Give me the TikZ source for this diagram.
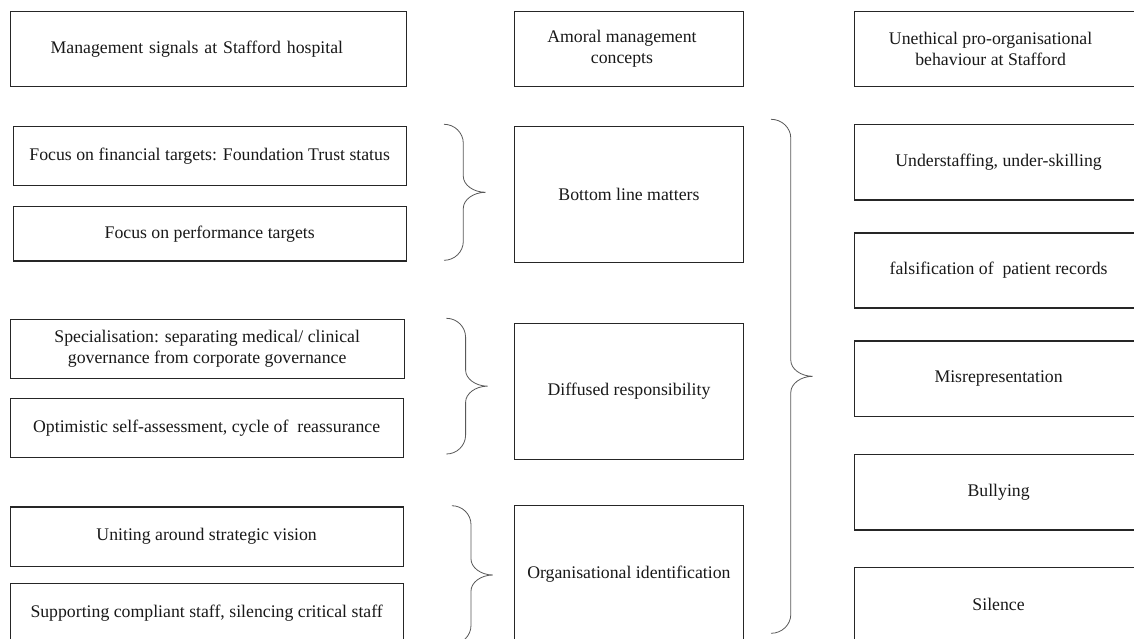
\documentclass[tikz,border=0pt]{standalone}
\usepackage{fontspec}
\setmainfont{Liberation Serif}
\newcommand{\bfnt}{\fontsize{17.75pt}{21pt}\selectfont}
\newcommand{\curlybr}[5]{% x0, ytop, xvert, xtip, ybot
  \pgfmathsetmacro{\ymid}{(#2+#5)/2}
  \draw[bracestyle] (#1,#2) .. controls ({#1+0.55*(#3-#1)},#2) and (#3,{#2+8.5}) .. (#3,{#2+19})
    -- (#3,{\ymid-16}) .. controls (#3,{\ymid-7.5}) and ({#3+0.45*(#4-#3)},\ymid) .. (#4,\ymid)
    .. controls ({#3+0.45*(#4-#3)},\ymid) and (#3,{\ymid+7.5}) .. (#3,{\ymid+16})
    -- (#3,{#5-19}) .. controls (#3,{#5-8.5}) and ({#1+0.55*(#3-#1)},#5) .. (#1,#5);
}
\tikzset{
  box/.style={draw=black!85, line width=1.2pt, rectangle, anchor=north west,
    inner sep=0pt, align=center, font=\bfnt, text=black!90},
  bracestyle/.style={draw=black!65, line width=0.8pt},
  lab/.style={inner sep=0pt, align=center, font=\bfnt, text=black!90}
}
\begin{document}
\begin{tikzpicture}[x=1pt,y=-1pt]
\useasboundingbox (0,0) rectangle (1134,639);
\fill[white] (0,0) rectangle (1134,639);
\clip (0,0) rectangle (1134,639);

% left column
\node[box, minimum height=75pt, text width=315.3pt, inner xsep=40.4pt, align=left] (ms) at (9.6,10.7) {Management signals at Stafford hospital};
\node[box, minimum width=393.2pt, minimum height=59pt] (fin) at (12.5,125.7) {Focus on financial targets: Foundation Trust status};
\node[box, minimum width=393.2pt, minimum height=54.3pt] (perf) at (12.5,206) {Focus on performance targets};
\node[box, minimum width=394pt, minimum height=59pt] (spec) at (9.6,319) {Specialisation: separating medical/ clinical\\governance from corporate governance};
\node[box, minimum width=392.9pt, minimum height=59pt] (opt) at (9.6,397.7) {Optimistic self-assessment, cycle of \ reassurance};
\node[box, minimum width=392.9pt, minimum height=59.4pt] (unit) at (9.6,506.3) {Uniting around strategic vision};
\node[box, minimum width=392.9pt, minimum height=59.4pt] (supp) at (9.6,582.7) {Supporting compliant staff, silencing critical staff};

% middle column
\node[box, minimum width=228.7pt, minimum height=75pt,
  label={[lab, name=amct, xshift=-7pt]center:Amoral management\\concepts}] (amc) at (514,10.7) {};
\node[box, minimum width=228.7pt, minimum height=136pt] (blm) at (514,125.7) {Bottom line matters};
\node[box, minimum width=228.7pt, minimum height=135.7pt] (dfr) at (514,323) {Diffused responsibility};
\node[box, minimum width=228.7pt, minimum height=138pt] (oid) at (514,505) {Organisational identification};

% right column
\node[box, minimum width=289pt, minimum height=75pt,
  label={[lab, name=upbt, xshift=-8pt]center:Unethical pro-organisational\\behaviour at Stafford}] (upb) at (853.5,10.7) {};
\node[box, minimum width=289pt, minimum height=75pt] (und) at (853.5,124.3) {Understaffing, under-skilling};
\node[box, minimum width=289pt, minimum height=75pt] (fal) at (853.5,232.3) {falsification of \ patient records};
\node[box, minimum width=289pt, minimum height=75.4pt] (mis) at (853.5,340.3) {Misrepresentation};
\node[box, minimum width=289pt, minimum height=75.3pt] (bul) at (853.5,454) {Bullying};
\node[box, minimum width=289pt, minimum height=75pt] (sil) at (853.5,566.7) {Silence};

% braces
\curlybr{444}{124.3}{463.3}{485.5}{260.3}
\curlybr{446.4}{318.3}{465.6}{487.5}{454}
\curlybr{451.8}{505.7}{471}{492.9}{644.3}
\curlybr{771}{119.3}{790.8}{812.7}{633.3}
\end{tikzpicture}
\end{document}
